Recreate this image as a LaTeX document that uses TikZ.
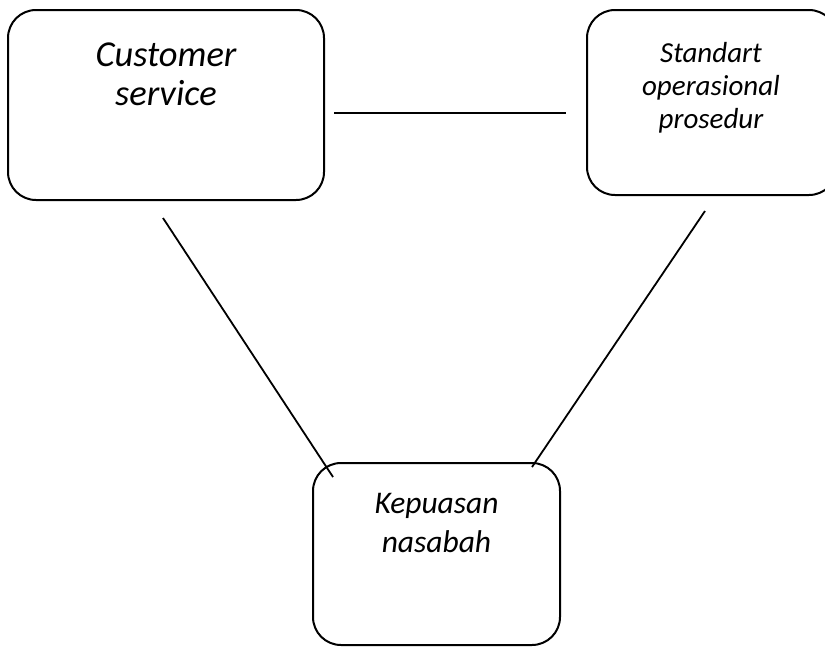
\documentclass[tikz,border=0pt]{standalone}
\usepackage{fontspec}
\setmainfont{Carlito}
\usetikzlibrary{positioning}
\tikzset{
  box/.style={draw, line width=2pt, rounded corners=28pt},
  caption/.style={inner sep=0pt, align=center, anchor=north},
  link/.style={line width=1.8pt}
}
\begin{document}
\begin{tikzpicture}[x=1pt,y=-1pt]
  \useasboundingbox (0,0) rectangle (825,646);
  \clip (0,0) rectangle (825,646);
  \node[box, minimum width=316pt, minimum height=190pt](cs) at (166,105) {};
  \node[box, minimum width=250pt, minimum height=185pt](sop) at (712,102.5) {};
  \node[box, minimum width=247pt, minimum height=182pt](kn) at (436.5,554) {};
  \node[caption, font=\fontsize{36.5}{39}\selectfont\itshape](cstext) at (166,43) {Customer\\service};
  \node[caption, font=\fontsize{29}{33}\selectfont\itshape](soptext) at (711,42) {Standart\\operasional\\prosedur};
  \node[caption, font=\fontsize{31.5}{39}\selectfont\itshape](kntext) at (436.5,493) {Kepuasan\\nasabah};
  \coordinate (csright) at (334,113);
  \coordinate (sopleft) at (566,113);
  \coordinate (csbottom) at (163,218);
  \coordinate (kntopleft) at (333,477);
  \coordinate (sopbottom) at (705,211);
  \coordinate (kntopright) at (532,467);
  \draw[link] (csright) -- (sopleft);
  \draw[link] (csbottom) -- (kntopleft);
  \draw[link] (sopbottom) -- (kntopright);
\end{tikzpicture}
\end{document}
